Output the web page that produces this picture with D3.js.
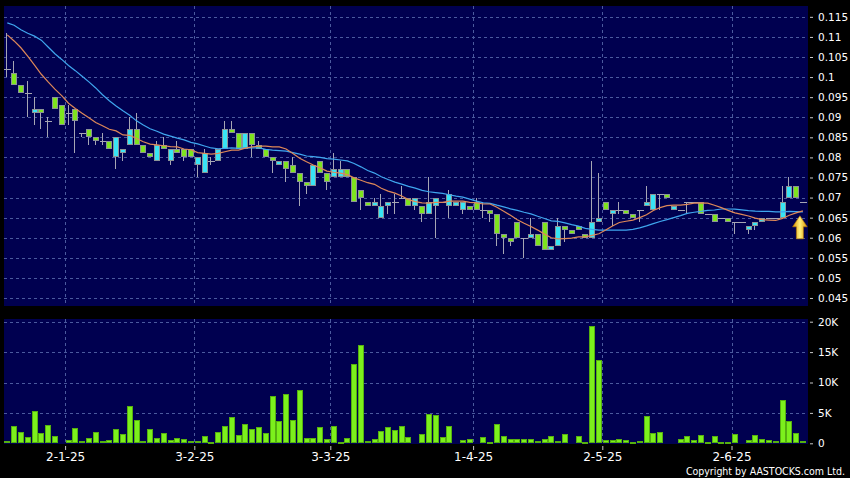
<!DOCTYPE html>
<html><head><meta charset="utf-8">
<script src="https://cdn.jsdelivr.net/npm/d3@7"></script>
<style>html,body{margin:0;padding:0;background:#000;}svg{display:block;}</style>
</head><body><svg id="c" width="850" height="478"></svg>
<script>
// ---------- data ----------
const dateLabels = ["2-1-25","3-2-25","3-3-25","1-4-25","2-5-25","2-6-25"];
const dateIndex  = [9, 28, 48, 69, 88, 107];   // first bar of each labelled day
const priceTicks = [0.045,0.05,0.055,0.06,0.065,0.07,0.075,0.08,0.085,0.09,0.095,0.1,0.105,0.11,0.115];
const volumeTicks = [0,5,10,15,20];             // thousands

const open = [
0.102,0.101,0.098,0.096,0.091,0.092,0.089,0.095,0.093,0.091,
0.092,0.086,0.087,0.085,0.084,0.084,0.080,0.081,0.083,0.087,
0.083,0.081,0.079,0.083,0.079,0.082,0.082,0.082,0.078,0.076,
0.079,0.079,0.082,0.087,0.086,0.082,0.086,0.083,0.082,0.080,
0.078,0.079,0.078,0.076,0.074,0.073,0.079,0.076,0.075,0.075,
0.077,0.075,0.072,0.069,0.068,0.065,0.068,0.069,0.070,0.070,
0.068,0.068,0.066,0.068,0.069,0.068,0.068,0.067,0.068,0.069,
0.067,0.067,0.066,0.061,0.060,0.064,0.060,0.060,0.061,0.064,
0.057,0.058,0.063,0.062,0.063,0.061,0.060,0.064,0.069,0.066,
0.067,0.067,0.066,0.067,0.068,0.067,0.071,0.071,0.067,0.067,
0.069,0.069,0.069,0.066,0.066,0.065,0.065,0.064,0.064,0.062,
0.063,0.064,0.065,0.065,0.065,0.070,0.073,0.069];
const high = [
0.111,0.104,0.098,0.099,0.095,0.092,0.090,0.095,0.093,0.093,
0.092,0.086,0.087,0.085,0.086,0.084,0.085,0.082,0.090,0.091,
0.083,0.081,0.084,0.085,0.082,0.084,0.082,0.082,0.080,0.082,
0.080,0.082,0.089,0.089,0.086,0.086,0.086,0.084,0.082,0.080,
0.079,0.079,0.080,0.076,0.074,0.078,0.079,0.076,0.081,0.079,
0.077,0.075,0.072,0.069,0.070,0.071,0.069,0.071,0.073,0.070,
0.070,0.068,0.075,0.070,0.069,0.072,0.069,0.069,0.068,0.070,
0.069,0.067,0.066,0.061,0.060,0.064,0.060,0.065,0.061,0.064,
0.058,0.065,0.063,0.062,0.063,0.061,0.079,0.076,0.069,0.067,
0.069,0.067,0.066,0.067,0.073,0.071,0.071,0.071,0.068,0.067,
0.069,0.069,0.069,0.066,0.066,0.065,0.065,0.064,0.064,0.063,
0.064,0.065,0.065,0.065,0.073,0.075,0.073,0.069];
const low = [
0.100,0.098,0.096,0.090,0.088,0.087,0.085,0.092,0.088,0.088,
0.081,0.085,0.083,0.083,0.083,0.082,0.077,0.079,0.083,0.083,
0.081,0.080,0.079,0.082,0.078,0.081,0.079,0.080,0.075,0.076,
0.078,0.079,0.082,0.086,0.082,0.082,0.080,0.082,0.080,0.076,
0.078,0.074,0.076,0.068,0.071,0.073,0.076,0.072,0.075,0.075,
0.075,0.069,0.067,0.068,0.068,0.065,0.066,0.066,0.070,0.068,
0.067,0.064,0.066,0.060,0.069,0.065,0.068,0.066,0.067,0.067,
0.065,0.064,0.058,0.056,0.058,0.060,0.055,0.060,0.058,0.057,
0.057,0.058,0.059,0.061,0.062,0.060,0.060,0.064,0.067,0.063,
0.066,0.066,0.065,0.064,0.068,0.067,0.067,0.070,0.067,0.067,
0.066,0.069,0.066,0.066,0.064,0.065,0.064,0.061,0.064,0.061,
0.062,0.064,0.065,0.065,0.065,0.070,0.070,0.069];
const close = [
0.102,0.098,0.096,0.096,0.092,0.091,0.089,0.092,0.088,0.091,
0.089,0.086,0.085,0.084,0.084,0.082,0.085,0.082,0.087,0.083,
0.081,0.080,0.083,0.082,0.082,0.081,0.080,0.080,0.080,0.081,
0.079,0.082,0.087,0.086,0.082,0.086,0.083,0.082,0.080,0.079,
0.079,0.077,0.076,0.074,0.073,0.078,0.076,0.074,0.077,0.077,
0.075,0.069,0.070,0.068,0.069,0.068,0.069,0.069,0.070,0.068,
0.070,0.066,0.069,0.070,0.069,0.071,0.069,0.069,0.067,0.067,
0.067,0.066,0.061,0.060,0.059,0.060,0.060,0.061,0.058,0.057,
0.058,0.063,0.062,0.061,0.062,0.060,0.064,0.065,0.067,0.067,
0.067,0.066,0.065,0.067,0.069,0.071,0.071,0.070,0.068,0.067,
0.069,0.069,0.066,0.066,0.064,0.065,0.064,0.064,0.064,0.063,
0.064,0.065,0.065,0.065,0.069,0.073,0.070,0.069];
const volume = [ // thousands of shares
0.4,2.8,1.9,1.0,5.3,1.7,3.0,1.25,0.1,0.55,
2.5,0.45,0.9,1.85,0.45,0.55,2.3,1.6,6.2,3.9,
0.3,2.3,0.9,1.7,0.55,0.9,0.7,0.45,0.45,1.2,
0.15,1.85,2.8,4.3,1.35,3.15,2.35,2.65,1.7,7.8,
3.75,8.05,3.9,8.7,0.9,0.9,2.6,0.75,2.8,0.15,
0.9,13.0,16.1,0.4,0.65,2.0,2.6,2.25,2.8,1.0,
0.1,1.5,4.75,4.6,1.0,2.8,0.1,0.55,0.7,0.05,
1.0,0.15,3.1,1.2,0.75,0.7,0.7,0.65,0.4,0.65,
1.15,0.4,1.5,0.05,1.2,0.2,19.3,13.7,0.55,0.55,
0.65,0.5,0.2,0.45,4.45,1.65,1.8,0.1,0.1,0.75,
1.25,0.55,1.3,0.2,1.2,0.2,0.2,1.5,0.1,0.55,
1.35,0.65,0.55,0.4,7.2,3.7,1.7,0.3];
// moving-average values before enough in-chart history exists
const ma10Lead = [0.1105,0.1090,0.1073,0.1052,0.1030,0.1007,0.0988,0.0970,0.0954];
const ma20Lead = [0.1135,0.1129,0.1118,0.1109,0.1102,0.1092,0.1075,0.1058,0.1044,0.1029,
                  0.1016,0.1002,0.0988,0.0973,0.0956,0.0941,0.0928,0.0916,0.0905];

// ---------- derived ----------
function sma(n, lead){
  return close.map((c,i)=> i < n-1 ? lead[i] : d3.mean(close.slice(i-n+1,i+1)));
}
const ma10 = sma(10, ma10Lead), ma20 = sma(20, ma20Lead);
const N = close.length;
const idx = d3.range(N);

// ---------- layout ----------
const svg = d3.select("#c");
const MP = {l:4, r:808, t:6, b:306};
const VP = {l:4, r:808, t:319, b:444};
const x = d3.scaleLinear().domain([0, N-1]).range([7.3, 802.9]);
const y = d3.scaleLinear().domain([0.043, 0.1177]).range([MP.b, MP.t]);
const yv = d3.scaleLinear().domain([0, 20]).range([443.3, 321.7]);

const BG = "#000050", GRID = "#4b5a9e";
const UP = "#38e4f4", DOWN = "#7ee41e", WICK = "#a6a6b4";

svg.append("rect").attr("width",850).attr("height",478).attr("fill","#000");
svg.append("rect").attr("x",MP.l).attr("y",MP.t).attr("width",MP.r-MP.l).attr("height",MP.b-MP.t).attr("fill",BG);
svg.append("rect").attr("x",VP.l).attr("y",VP.t).attr("width",VP.r-VP.l).attr("height",VP.b-VP.t).attr("fill",BG);

// grids
const gridG = svg.append("g").attr("stroke",GRID).attr("stroke-dasharray","3,3").attr("stroke-width",1);
priceTicks.forEach(v=>{
  const yy = Math.round(y(v))+0.5;
  gridG.append("line").attr("x1",MP.l).attr("x2",MP.r).attr("y1",yy).attr("y2",yy);
});
volumeTicks.filter(v=>v>0).forEach(v=>{
  const yy = Math.round(yv(v))+0.5;
  gridG.append("line").attr("x1",VP.l).attr("x2",VP.r).attr("y1",yy).attr("y2",yy);
});
dateIndex.forEach(di=>{
  const xx = Math.round(x(di-0.5))+0.5;
  gridG.append("line").attr("x1",xx).attr("x2",xx).attr("y1",MP.t).attr("y2",MP.b);
  gridG.append("line").attr("x1",xx).attr("x2",xx).attr("y1",VP.t).attr("y2",VP.b);
});

// candles
const cg = svg.append("g").attr("shape-rendering","crispEdges");
idx.forEach(i=>{
  const L = Math.round(x(i)-3);
  const cx = L + 2.5;
  cg.append("line").attr("x1",cx).attr("x2",cx).attr("y1",y(high[i])).attr("y2",y(low[i]))
    .attr("stroke",WICK).attr("stroke-width",1);
  if (open[i] === close[i]) {
    const yy = Math.round(y(close[i]))+0.5;
    cg.append("line").attr("x1",L-0.5).attr("x2",L+6.5).attr("y1",yy).attr("y2",yy)
      .attr("stroke",WICK).attr("stroke-width",1);
  } else {
    const top = Math.round(y(Math.max(open[i],close[i])));
    const bot = Math.round(y(Math.min(open[i],close[i])));
    cg.append("rect").attr("x",L+0.5).attr("y",top+0.5).attr("width",5).attr("height",Math.max(1,bot-top-1))
      .attr("fill", close[i] > open[i] ? UP : DOWN)
      .attr("stroke","#8c9496").attr("stroke-width",1);
  }
});

// moving averages
const line = d3.line().x((d,i)=>x(i)).y(d=>y(d));
svg.append("path").datum(ma20).attr("d",line).attr("fill","none").attr("stroke","#3fa6ee").attr("stroke-width",1.2);
svg.append("path").datum(ma10).attr("d",line).attr("fill","none").attr("stroke","#de8858").attr("stroke-width",1.2);

// arrow marker at the end
const defs = svg.append("defs");
const gr = defs.append("linearGradient").attr("id","ag").attr("x1","0").attr("x2","1").attr("y1","0").attr("y2","0");
gr.append("stop").attr("offset","0").attr("stop-color","#d89000");
gr.append("stop").attr("offset","0.5").attr("stop-color","#fff07a");
gr.append("stop").attr("offset","1").attr("stop-color","#d89000");
const ax = x(N-1) - 3, ay = y(ma10[N-1]) + 5;
svg.append("path")
  .attr("d",`M${ax},${ay} L${ax+7.3},${ay+11} L${ax+3.5},${ay+11} L${ax+3.5},${ay+23} L${ax-3.5},${ay+23} L${ax-3.5},${ay+11} L${ax-7.3},${ay+11} Z`)
  .attr("fill","url(#ag)").attr("stroke","#b87800").attr("stroke-width",0.6);

// volume bars
const vg = svg.append("g").attr("shape-rendering","crispEdges");
idx.forEach(i=>{
  const L = Math.round(x(i)-3);
  const top = Math.round(yv(volume[i]));
  const bot = Math.round(yv(0));
  if (bot - top < 1) return;
  vg.append("rect").attr("x",L+0.5).attr("y",top+0.5).attr("width",5).attr("height",Math.max(0.5,bot-top-1))
    .attr("fill","#7cf01c").attr("stroke","#56b010").attr("stroke-width",1);
});

// axes
const fmtP = d3.format("~g");
const yAxis = d3.axisRight(y).tickValues(priceTicks).tickFormat(fmtP).tickSize(3).tickPadding(5);
const ga = svg.append("g").attr("transform","translate(810,0)").call(yAxis);
const vAxis = d3.axisRight(yv).tickValues(volumeTicks).tickFormat(v=> v===0 ? "0" : v+"K").tickSize(3).tickPadding(5);
const gv = svg.append("g").attr("transform","translate(810,0)").call(vAxis);
[ga,gv].forEach(g=>{
  g.select(".domain").remove();
  g.selectAll(".tick line").attr("stroke","#c8c8c8");
  g.selectAll(".tick text").attr("fill","#fff").attr("font-family","DejaVu Sans, sans-serif").attr("font-size","10.5px");
});
const xAxis = d3.axisBottom(x).tickValues(dateIndex.map(d=>d-0.5)).tickFormat((d,i)=>dateLabels[i]).tickSize(4).tickPadding(2);
const gx = svg.append("g").attr("transform","translate(0,446)").call(xAxis);
gx.select(".domain").remove();
gx.selectAll(".tick line").attr("stroke","#c8c8c8");
gx.selectAll(".tick text").attr("fill","#fff").attr("font-family","DejaVu Sans, sans-serif").attr("font-size","12px");

svg.append("text").attr("x",845).attr("y",474.5).attr("text-anchor","end")
  .attr("fill","#fff").attr("font-family","DejaVu Sans Condensed, DejaVu Sans, sans-serif").attr("font-size","10.5px")
  .text("Copyright by AASTOCKS.com Ltd.");
</script></body></html>
